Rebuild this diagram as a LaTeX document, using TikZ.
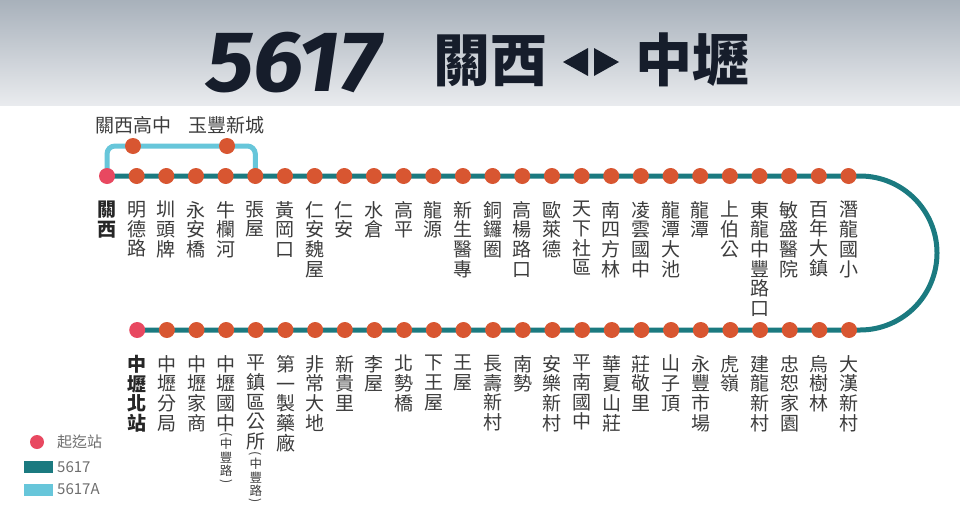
\documentclass[tikz,border=0pt]{standalone}
\usepackage{fontspec}
\usepackage{graphicx}
\setmainfont{Noto Sans CJK TC}
\newfontfamily\cjk{Noto Sans CJK TC}
\newfontfamily\numfont{Fira Sans}
\definecolor{hdrTop}{HTML}{A8B1BB}
\definecolor{hdrBot}{HTML}{E9EBEE}
\definecolor{titleNavy}{HTML}{161D2B}
\definecolor{lineTeal}{HTML}{1B7A80}
\definecolor{lineBlue}{HTML}{67C6DA}
\definecolor{stnOrange}{HTML}{D85631}
\definecolor{termPink}{HTML}{E84860}
\definecolor{lblGray}{HTML}{3C3C3C}
\definecolor{legGray}{HTML}{6E6E6E}
\newcommand{\parTop}{\rotatebox[origin=c]{-90}{(}}
\newcommand{\parBot}{\rotatebox[origin=c]{-90}{)}}
\lineskiplimit=-30pt
\begin{document}
\begin{tikzpicture}[x=1pt,y=-1pt,
  stn/.style={circle, fill=stnOrange, minimum size=16pt, inner sep=0},
  term/.style={circle, fill=termPink, minimum size=16pt, inner sep=0},
  mainline/.style={draw=lineTeal, line width=5pt},
  branchline/.style={draw=lineBlue, line width=5pt, rounded corners=8pt},
  lbl/.style={anchor=north, align=center, inner sep=0, text=lblGray,
    font=\cjk\fontsize{19}{19.7}\selectfont},
  tlbl/.style={lbl, font=\cjk\bfseries\fontsize{19}{19.7}\selectfont, text=black!85},
  smalllbl/.style={anchor=north, align=center, inner sep=0, text=lblGray,
    font=\cjk\fontsize{12.5}{13.5}\selectfont},
  hlbl/.style={inner sep=0, text=lblGray, font=\cjk\fontsize{19}{19}\selectfont},
  legtxt/.style={anchor=west, inner sep=0, text=legGray, font=\cjk\fontsize{15}{15}\selectfont},
  legbox/.style={minimum width=29pt, minimum height=12pt, inner sep=0},
  title/.style={anchor=base, inner sep=0, text=titleNavy}
]
\useasboundingbox (0,0) rectangle (960,517);
\fill[white] (0,0) rectangle (960,517);
\shade[top color=hdrTop, bottom color=hdrBot] (0,0) rectangle (960,105);

% title
\node[title] (num) at (293.5,91) {\scalebox{1.05}[1]{\numfont\bfseries\itshape\fontsize{86}{86}\selectfont 5617}};
\node[title] (from) at (490,81) {\cjk\bfseries\fontsize{57}{57}\selectfont 關西};
\node[title] (to) at (692,81) {\cjk\bfseries\fontsize{57}{57}\selectfont 中壢};
\fill[titleNavy] (563,62) -- (588,48) -- (588,76) -- cycle;
\fill[titleNavy] (619,62) -- (594,48) -- (594,76) -- cycle;

% coordinates
\foreach \i in {0,...,25} \coordinate (t\i) at ({107+29.66*\i},176);
\foreach \i in {0,...,24} \coordinate (b\i) at ({137.2+29.66*\i},330);
\coordinate (arcS) at (860,176);
\coordinate (brc) at (255.3,146);

% lines
\draw[branchline] (t0) |- (brc) -- (t5);
\draw[mainline] (t0) -- (t25) -- (arcS) arc[start angle=-90, end angle=90, radius=77] -- (b0);

% branch stations
\node[stn] (ba) at (133,146) {};
\node[stn] (bb) at (227,146) {};
\node[hlbl] (bal) at (133,125) {關西高中};
\node[hlbl] (bbl) at (226,125) {玉豐新城};

% top row
\node[term] (s0) at (t0) {};
\node[tlbl] (l0) at ([yshift=-25pt]t0) {關\\西};
\foreach \n [count=\i from 1] in {
  {明\\德\\路},{圳\\頭\\牌},{永\\安\\橋},{牛\\欄\\河},{張\\屋},{黃\\岡\\口},
  {仁\\安\\魏\\屋},{仁\\安},{水\\倉},{高\\平},{龍\\源},{新\\生\\醫\\專},
  {銅\\鑼\\圈},{高\\楊\\路\\口},{歐\\萊\\德},{天\\下\\社\\區},{南\\四\\方\\林},
  {凌\\雲\\國\\中},{龍\\潭\\大\\池},{龍\\潭},{上\\伯\\公},{東\\龍\\中\\豐\\路\\口},
  {敏\\盛\\醫\\院},{百\\年\\大\\鎮},{潛\\龍\\國\\小}}
{
  \node[stn] (s\i) at (t\i) {};
  \node[lbl] (l\i) at ([yshift=-25pt]t\i) {\n};
}

% bottom row
\node[term] (r0) at (b0) {};
\node[tlbl] (m0) at ([yshift=-25pt]b0) {中\\壢\\北\\站};
\foreach \n [count=\i from 1] in {
  {中\\壢\\分\\局},{中\\壢\\家\\商},{中\\壢\\國\\中},{平\\鎮\\區\\公\\所},
  {第\\一\\製\\藥\\廠},{非\\常\\大\\地},{新\\貴\\里},{李\\屋},{北\\勢\\橋},
  {下\\王\\屋},{王\\屋},{長\\壽\\新\\村},{南\\勢},{安\\樂\\新\\村},{平\\南\\國\\中},
  {華\\夏\\山\\莊},{莊\\敬\\里},{山\\子\\頂},{永\\豐\\市\\場},{虎\\嶺},
  {建\\龍\\新\\村},{忠\\恕\\家\\園},{烏\\樹\\林},{大\\漢\\新\\村}}
{
  \node[stn] (r\i) at (b\i) {};
  \node[lbl] (m\i) at ([yshift=-25pt]b\i) {\n};
}
\node[smalllbl] (m3p) at ([yshift=-102pt]b3) {\parTop\\[-2.8pt]中\\豐\\路\\[-4.2pt]\parBot};
\node[smalllbl] (m4p) at ([yshift=-121.7pt]b4) {\parTop\\[-2.8pt]中\\豐\\路\\[-4.2pt]\parBot};

% legend
\node[term, minimum size=14pt] (lg1) at (37,442) {};
\node[legtxt] (lt1) at (57,442) {起迄站};
\node[legbox, fill=lineTeal] (lg2) at (38.5,467) {};
\node[legtxt] (lt2) at (57,467) {5617};
\node[legbox, fill=lineBlue] (lg3) at (38.5,489.5) {};
\node[legtxt] (lt3) at (57,489.5) {5617A};
\end{tikzpicture}
\end{document}
